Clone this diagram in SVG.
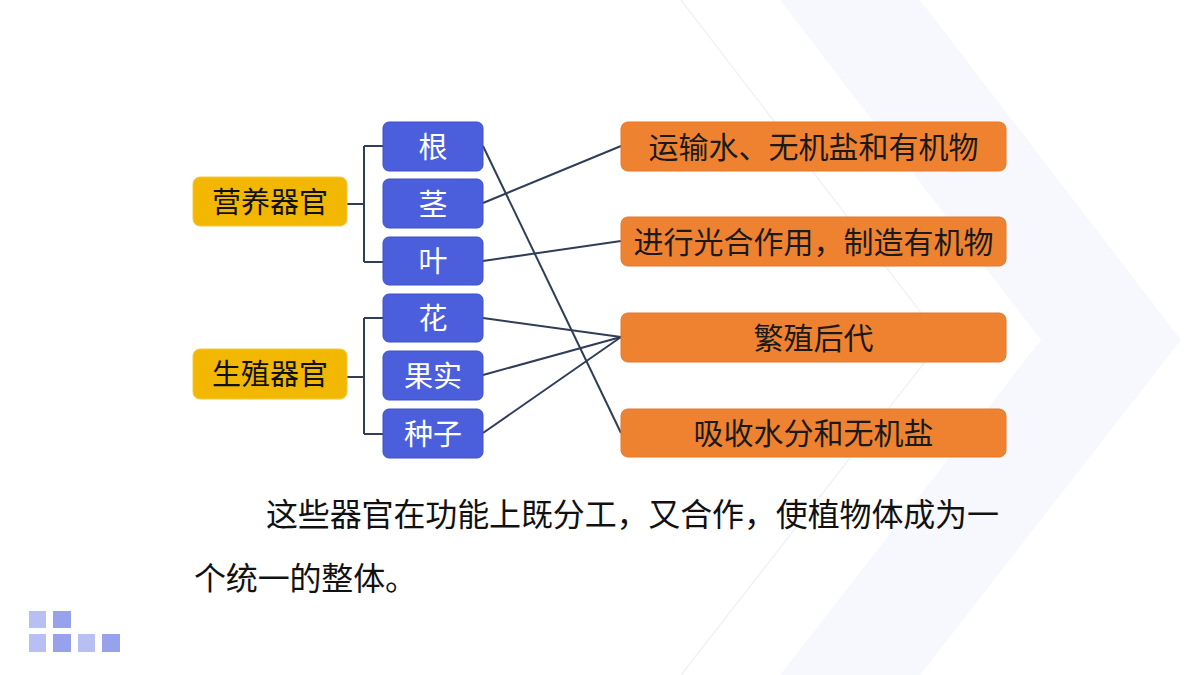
<svg xmlns="http://www.w3.org/2000/svg" width="1200" height="675" viewBox="0 0 1200 675">
<style>
text{font-family:"Noto Sans CJK SC","Microsoft YaHei",sans-serif}
.y rect{fill:#f2b700;stroke:#f5c93a;stroke-width:1}
.y text{fill:#111;font-size:29px}
.b rect{fill:#4b5fdc;stroke:#3e50c4;stroke-width:1}
.b text{fill:#fff;font-size:29px}
.o rect{fill:#ef8230;stroke:#e57625;stroke-width:1}
.o text{fill:#1a1a1a;font-size:30px}
.lbl{text-anchor:middle;dominant-baseline:central}
#connectors path{fill:none;stroke:#2f3d58;stroke-width:2}
.para{fill:#111;font-size:32px}
.sq1{fill:#b8bff2}
.sq2{fill:#97a2ec}
</style>
<rect width="1200" height="675" fill="#ffffff"/>
<g id="background">
<polygon points="780,0 920,0 1181,340 920,675 780,675 1041,340" fill="#f7f8fd"/>
<polyline points="681,0 942,340 681,675" fill="none" stroke="#f0f2f9" stroke-width="1.5"/>
</g>
<g id="connectors">
<path d="M347,204 H364 M364,146 V262 M364,146 H383 M364,262 H383"/>
<path d="M347,377 H364 M364,318 V434 M364,318 H383 M364,434 H383"/>
<path d="M483,146 L621,433"/>
<path d="M483,203 L621,146"/>
<path d="M483,261 L621,241"/>
<path d="M483,318 L621,337"/>
<path d="M483,375 L621,337"/>
<path d="M483,433 L621,337"/>
</g>
<g id="n-yingyang" class="y"><rect x="193" y="177" width="154" height="49" rx="7"/><text class="lbl" x="270" y="200">营养器官</text></g>
<g id="n-shengzhi" class="y"><rect x="193" y="349" width="154" height="50" rx="7"/><text class="lbl" x="270" y="372">生殖器官</text></g>
<g id="n-gen" class="b"><rect x="383" y="122" width="100" height="49" rx="6"/><text class="lbl" x="433" y="144.5">根</text></g>
<g id="n-jing" class="b"><rect x="383" y="179" width="100" height="49" rx="6"/><text class="lbl" x="433" y="201.5">茎</text></g>
<g id="n-ye" class="b"><rect x="383" y="237" width="100" height="48" rx="6"/><text class="lbl" x="433" y="259">叶</text></g>
<g id="n-hua" class="b"><rect x="383" y="294" width="100" height="48" rx="6"/><text class="lbl" x="433" y="316">花</text></g>
<g id="n-guoshi" class="b"><rect x="383" y="351" width="100" height="49" rx="6"/><text class="lbl" x="433" y="373.5">果实</text></g>
<g id="n-zhongzi" class="b"><rect x="383" y="409" width="100" height="49" rx="6"/><text class="lbl" x="433" y="431.5">种子</text></g>
<g id="n-yunshu" class="o"><rect x="621" y="122" width="385" height="49" rx="7"/><text class="lbl" x="813.5" y="144.5">运输水、无机盐和有机物</text></g>
<g id="n-guanghe" class="o"><rect x="621" y="217" width="385" height="49" rx="7"/><text class="lbl" x="813.5" y="239.5">进行光合作用，制造有机物</text></g>
<g id="n-fanzhi" class="o"><rect x="621" y="313" width="385" height="49" rx="7"/><text class="lbl" x="813.5" y="335.5">繁殖后代</text></g>
<g id="n-xishou" class="o"><rect x="621" y="409" width="385" height="48" rx="7"/><text class="lbl" x="813.5" y="431">吸收水分和无机盐</text></g>
<g id="paragraph">
<text class="para" x="266" y="526" textLength="733" lengthAdjust="spacing">这些器官在功能上既分工，又合作，使植物体成为一</text>
<text class="para" x="194" y="590" textLength="223" lengthAdjust="spacing">个统一的整体。</text>
</g>
<g id="deco">
<rect class="sq1" x="29" y="611" width="17" height="17"/>
<rect class="sq2" x="53" y="611" width="18" height="17"/>
<rect class="sq1" x="29" y="634" width="17" height="18"/>
<rect class="sq2" x="53" y="634" width="18" height="18"/>
<rect class="sq1" x="78" y="634" width="17" height="18"/>
<rect class="sq2" x="102" y="634" width="18" height="18"/>
</g>
</svg>
